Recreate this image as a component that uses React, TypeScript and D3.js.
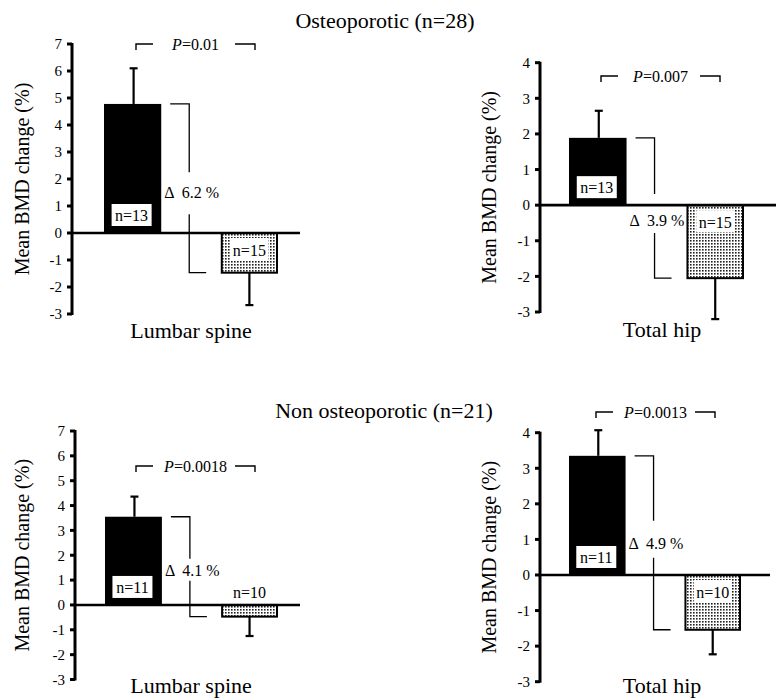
import React from "react";
import * as d3 from "d3";

// ---- Data ----
const groupTitles = ["Osteoporotic (n=28)", "Non osteoporotic (n=21)"];
const siteNames = ["Lumbar spine", "Total hip", "Lumbar spine", "Total hip"];
const treatedMeans = [4.78, 1.89, 3.55, 3.35];
const treatedErrTop = [6.1, 2.65, 4.36, 4.07];
const controlMeans = [-1.47, -2.05, -0.47, -1.54];
const controlErrBottom = [-2.67, -3.2, -1.25, -2.23];
const treatedN = ["n=13", "n=13", "n=11", "n=11"];
const controlN = ["n=15", "n=15", "n=10", "n=10"];
const deltaLabels = ["6.2 %", "3.9 %", "4.1 %", "4.9 %"];
const pValues = ["0.01", "0.007", "0.0018", "0.0013"];
const yDomains: [number, number][] = [[-3, 7], [-3, 4], [-3, 7], [-3, 4]];
const yAxisTitle = "Mean BMD change (%)";
const groups = ["treated", "control"];

// ---- Layout (positions only) ----
const layouts = [
  { axisX: 72, yRange: [314, 44], barRange: [104, 278], zeroEnd: 300, pY: 44, pL: 136, pR: 255, catX: 191, catY: 338, yLabX: 29, gap: [20, 22], dOff: 4 },
  { axisX: 540, yRange: [312, 62.7], barRange: [569, 744], zeroEnd: 776, pY: 76, pL: 601, pR: 720, catX: 662, catY: 337, yLabX: 496, gap: [26, 13], dOff: 12 },
  { axisX: 75, yRange: [679.5, 431], barRange: [105, 278], zeroEnd: 300, pY: 466, pL: 136, pR: 255, catX: 191, catY: 693, yLabX: 29, gap: [12, 10], dOff: 4 },
  { axisX: 540, yRange: [681.7, 432.7], barRange: [569, 741], zeroEnd: 770, pY: 412, pL: 596, pR: 715, catX: 662, catY: 693, yLabX: 496, gap: [23, 14], dOff: 1 },
];
const titlePos = [{ x: 385, y: 28 }, { x: 384, y: 418 }];

const FONT = "'Liberation Serif', 'Times New Roman', Times, serif";
const ts = { fontFamily: FONT };

function Panel({ i }: { i: number }) {
  const L = layouts[i];
  const y = d3.scaleLinear().domain(yDomains[i]).range(L.yRange as [number, number]);
  const x = d3.scaleBand().domain(groups).range(L.barRange as [number, number]).paddingInner(0.51).paddingOuter(0);
  const bw = x.bandwidth();
  const ticks = d3.range(yDomains[i][0], yDomains[i][1] + 1);
  const y0 = y(0);
  const x1 = x("treated")!;
  const x2 = x("control")!;
  const c1 = x1 + bw / 2;
  const c2 = x2 + bw / 2;
  const yT = y(treatedMeans[i]);
  const yC = y(controlMeans[i]);
  const [yTop, yBot] = [L.yRange[1], L.yRange[0]];
  const vx = x1 + bw + 28;
  const mid = (yT + yC) / 2 + L.dOff;
  const smallControl = yC - y0 < 25;
  return (
    <g>
      <text style={ts} transform={`translate(${L.yLabX},${(yTop + yBot) / 2}) rotate(-90)`} textAnchor="middle" fontSize={20}>
        {yAxisTitle}
      </text>
      <rect x={x1} y={yT} width={bw} height={y0 - yT} fill="#000" />
      <rect x={x2 + 1} y={y0} width={bw - 2} height={yC - y0} fill="url(#dots)" stroke="#000" strokeWidth={2} />
      <line x1={c1 + 1} x2={c1 + 1} y1={yT} y2={y(treatedErrTop[i])} stroke="#000" strokeWidth={2.2} />
      <line x1={c1 - 3} x2={c1 + 5} y1={y(treatedErrTop[i])} y2={y(treatedErrTop[i])} stroke="#000" strokeWidth={2.2} />
      <line x1={c2} x2={c2} y1={yC} y2={y(controlErrBottom[i])} stroke="#000" strokeWidth={2.2} />
      <line x1={c2 - 4} x2={c2 + 4} y1={y(controlErrBottom[i])} y2={y(controlErrBottom[i])} stroke="#000" strokeWidth={2.2} />
      <line x1={L.axisX} x2={L.zeroEnd} y1={y0} y2={y0} stroke="#000" strokeWidth={2.6} />
      <line x1={L.axisX} x2={L.axisX} y1={yTop - 1} y2={yBot + 1} stroke="#000" strokeWidth={3} />
      {ticks.map((t) => (
        <g key={t}>
          <line x1={L.axisX - 5} x2={L.axisX} y1={y(t)} y2={y(t)} stroke="#000" strokeWidth={3} />
          <text style={ts} x={L.axisX - 10} y={y(t)} dy="0.35em" textAnchor="end" fontSize={15}>
            {t}
          </text>
        </g>
      ))}
      <rect x={c1 - 21} y={y0 - 29} width={40} height={22} fill="#fff" />
      <text style={ts} x={c1 - 1} y={y0 - 18} dy="0.35em" textAnchor="middle" fontSize={16}>
        {treatedN[i]}
      </text>
      {smallControl ? (
        <text style={ts} x={c2} y={y0 - 13} dy="0.35em" textAnchor="middle" fontSize={16}>
          {controlN[i]}
        </text>
      ) : (
        <g>
          <rect x={c2 - 19} y={y0 + 5} width={38} height={22} fill="#fff" />
          <text style={ts} x={c2} y={y0 + 17} dy="0.35em" textAnchor="middle" fontSize={16}>
            {controlN[i]}
          </text>
        </g>
      )}
      <path
        d={`M${x1 + bw + 9},${yT}H${vx}V${mid - L.gap[0]}M${vx},${mid + L.gap[1]}V${yC}H${vx + 17}`}
        fill="none"
        stroke="#000"
        strokeWidth={1.3}
      />
      <text x={x1 + bw + 3} y={mid} dy="0.35em" fontSize={16} style={{ whiteSpace: "pre", fontFamily: FONT }}>
        {"\u0394  " + deltaLabels[i]}
      </text>
      <path d={`M${L.pL},${L.pY + 6}V${L.pY}H${L.pL + 17}M${L.pR - 20},${L.pY}H${L.pR}V${L.pY + 6}`} fill="none" stroke="#000" strokeWidth={1.4} />
      <text style={ts} x={(L.pL + L.pR) / 2} y={L.pY + 6} textAnchor="middle" fontSize={16}>
        <tspan fontStyle="italic">P</tspan>={pValues[i]}
      </text>
      <text style={ts} x={L.catX} y={L.catY} textAnchor="middle" fontSize={22}>
        {siteNames[i]}
      </text>
    </g>
  );
}

export default function App() {
  return (
    <div style={{ position: "fixed", left: 0, top: 0 }}>
      <svg width={784} height={699} style={{ display: "block", background: "#fff", fontFamily: FONT }}>
        <defs>
          <pattern id="dots" width={3} height={3} patternUnits="userSpaceOnUse">
            <rect width={3} height={3} fill="#fff" />
            <rect x={0} y={0} width={1.6} height={1.6} fill="#222" />
          </pattern>
        </defs>
        {groupTitles.map((t, k) => (
          <text key={k} style={ts} x={titlePos[k].x} y={titlePos[k].y} textAnchor="middle" fontSize={22}>
            {t}
          </text>
        ))}
        {[0, 1, 2, 3].map((i) => (
          <Panel key={i} i={i} />
        ))}
      </svg>
    </div>
  );
}
